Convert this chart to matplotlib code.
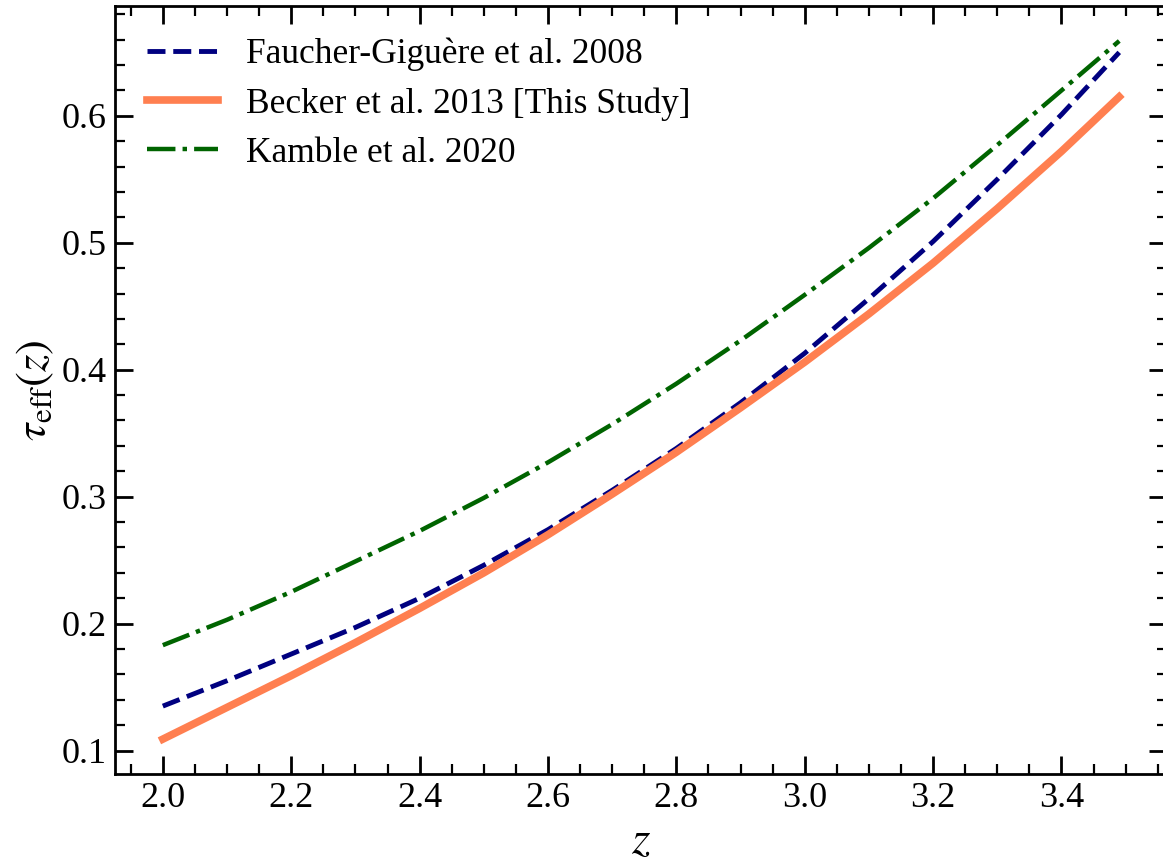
import numpy as np
import matplotlib
matplotlib.use("Agg")
import matplotlib.pyplot as plt
from matplotlib.ticker import MultipleLocator

# redshift grid and effective optical depth
z = [2.0, 2.1, 2.2, 2.3, 2.4, 2.5, 2.6, 2.7, 2.8, 2.9, 3.0, 3.1, 3.2, 3.3, 3.4, 3.49]
tau_fg08 = [0.135, 0.155, 0.176, 0.197, 0.220, 0.246, 0.274, 0.305, 0.338, 0.374,
            0.413, 0.456, 0.501, 0.550, 0.601, 0.650]
tau_becker13 = [0.109, 0.134, 0.159, 0.185, 0.212, 0.240, 0.270, 0.302, 0.335, 0.370,
                0.406, 0.444, 0.484, 0.527, 0.572, 0.615]
tau_kamble20 = [0.183, 0.203, 0.225, 0.249, 0.273, 0.299, 0.327, 0.357, 0.389, 0.423,
                0.459, 0.496, 0.535, 0.577, 0.620, 0.659]

labels = ['Faucher-Giguère et al. 2008', 'Becker et al. 2013 [This Study]', 'Kamble et al. 2020']

plt.rcParams['font.family'] = 'serif'
plt.rcParams['font.serif'] = ['Liberation Serif', 'DejaVu Serif']
plt.rcParams['mathtext.fontset'] = 'stix'

fig = plt.figure(figsize=(11.63, 8.63), dpi=100)
ax = fig.add_axes([0.0989, 0.1031, 0.9046, 0.8899])

ax.plot(z, tau_fg08, color='navy', ls='--', lw=3.5, label=labels[0])
ax.plot(z, tau_becker13, color='coral', ls='-', lw=5.5, label=labels[1])
ax.plot(z, tau_kamble20, color='darkgreen', ls='-.', lw=3.2, label=labels[2])

ax.xaxis.set_major_locator(MultipleLocator(0.2))
ax.xaxis.set_minor_locator(MultipleLocator(0.05))
ax.yaxis.set_major_locator(MultipleLocator(0.1))
ax.yaxis.set_minor_locator(MultipleLocator(0.02))
ax.tick_params(which='both', direction='in', top=True, right=True, labelsize=26)
ax.tick_params(which='major', length=13, width=2, pad=6)
ax.tick_params(which='minor', length=7, width=1.6)
for s in ax.spines.values():
    s.set_linewidth(2)

ax.set_xlabel(r'$z$', fontsize=34)
ax.set_ylabel(r'$\tau_{\rm eff}(z)$', fontsize=32)

ax.legend(loc='upper left', frameon=False, fontsize=25.5, labelspacing=0.45)

fig.savefig('out.png', dpi=100)
